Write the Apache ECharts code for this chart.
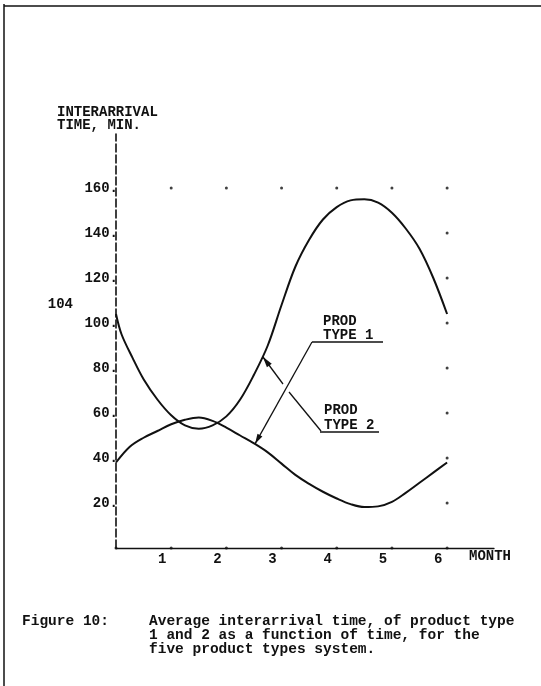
<!DOCTYPE html>
<html>
<head>
<meta charset="utf-8">
<script src="https://cdn.jsdelivr.net/npm/echarts@6/dist/echarts.min.js"></script>
<style>
html,body{margin:0;padding:0;background:#fff;}
#c{width:541px;height:686px;}
</style>
</head>
<body>
<div id="c"></div>
<script>
// ---- data ----
const monthTicks = [0, 1, 2, 3, 4, 5, 6];
const monthLabels = ['', '1', '2', '3', '4', '5', '6'];
const valueTicks = [20, 40, 60, 80, 100, 120, 140, 160];

const type1X = [0,0.25,0.5,0.75,1,1.25,1.5,1.75,2,2.25,2.5,2.75,3,3.25,3.5,3.75,4,4.25,4.5,4.75,5,5.25,5.5,5.75,6];
const type1Y = [38,45,49,52,55,57,58,56.5,53.5,50,46.5,42.5,37.5,32.5,28.5,25,22,19.5,18.2,18.5,20.5,24.5,29,33.5,38];

const type2X = [0,0.1,0.3,0.5,0.75,1,1.25,1.5,1.75,2,2.25,2.5,2.75,3,3.25,3.5,3.75,4,4.25,4.5,4.75,5,5.25,5.5,5.75,6];
const type2Y = [104,95,84.5,75,66,59,54.5,53,54.5,58.5,66,77,90,108,125,137,146,151.5,154.5,155,153.5,149,142,133,120,104];

// annotation arrow tips (data coords on the curves)
const type1Tip = [2.52, 46.3];
const type2Tip = [2.66, 85];

const FONT = '"Liberation Mono", "DejaVu Sans Mono", monospace';
const INK = '#111';

const chart = echarts.init(document.getElementById('c'));

const type1Data = type1X.map((x, i) => [x, type1Y[i]]);
const type2Data = type2X.map((x, i) => [x, type2Y[i]]);

// frame dots at tick intersections (top row, right column, bottom row)
const dots = [];
monthTicks.forEach(m => { if (m > 0) dots.push([m, valueTicks[valueTicks.length - 1]]); dots.push([m, 0]); });
valueTicks.forEach(v => { if (v < valueTicks[valueTicks.length - 1]) dots.push([monthTicks[monthTicks.length - 1], v]); });

chart.setOption({
  animation: false,
  backgroundColor: '#fff',
  grid: { left: 116, right: 47, top: 134, bottom: 138 },
  xAxis: {
    type: 'value', min: 0, max: 6.85, interval: 1,
    offset: 3,
    axisLine: { show: true, lineStyle: { color: INK, width: 1.3 } },
    axisTick: { show: false },
    splitLine: { show: false },
    axisLabel: {
      margin: 1,
      formatter: v => { const i = monthTicks.indexOf(v); return i >= 0 ? monthLabels[i] : ''; },
      fontFamily: FONT, fontSize: 14, fontWeight: 'bold', color: INK,
      align: 'center', padding: [0, 18, 0, 0]
    },
    name: 'MONTH', nameLocation: 'end', nameGap: -4,
    nameTextStyle: { fontFamily: FONT, fontSize: 14, fontWeight: 'bold', color: INK,
      align: 'center', verticalAlign: 'top', padding: [1, 0, 0, 0] }
  },
  yAxis: {
    type: 'value', min: 0, max: 184, interval: 20,
    axisLine: { show: true, lineStyle: { color: INK, width: 1.6, type: [8, 3] } },
    axisTick: { show: false },
    splitLine: { show: false },
    axisLabel: {
      margin: -2,
      formatter: v => valueTicks.indexOf(v) >= 0 ? v + '.' : '',
      fontFamily: FONT, fontSize: 14, fontWeight: 'bold', color: INK
    }
  },
  series: [
    {
      name: 'PROD TYPE 1', type: 'line', data: type1Data, smooth: 0.35,
      showSymbol: false, symbol: 'none',
      lineStyle: { color: INK, width: 2 }, z: 3
    },
    {
      name: 'PROD TYPE 2', type: 'line', data: type2Data, smooth: 0.35,
      symbol: 'none', showSymbol: false,
      lineStyle: { color: INK, width: 2 }, z: 3
    },
    {
      name: 'frame', type: 'scatter', data: dots, symbol: 'circle', symbolSize: 3,
      itemStyle: { color: INK }, silent: true, z: 2
    }
  ]
});

// annotations (labels with leader arrows)
function px(p) { return chart.convertToPixel({ gridIndex: 0 }, p); }
const t1 = px(type1Tip);
const t2 = px(type2Tip);
const startPt = px([type2X[0], type2Y[0]]);

function arrowHead(tip, from, len, half) {
  const dx = from[0] - tip[0], dy = from[1] - tip[1];
  const L = Math.hypot(dx, dy); const ux = dx / L, uy = dy / L;
  const bx = tip[0] + ux * len, by = tip[1] + uy * len;
  return {
    type: 'polygon',
    shape: { points: [tip, [bx - uy * half, by + ux * half], [bx + uy * half, by - ux * half]] },
    style: { fill: INK }
  };
}
function txt(x, y, s, size, align) {
  return { type: 'text', x: x, y: y,
    style: { text: s, fontFamily: FONT, fontSize: size || 14, fontWeight: 'bold', fill: INK,
      align: align || 'left', verticalAlign: 'middle' } };
}
function line(x1, y1, x2, y2, w) {
  return { type: 'line', shape: { x1, y1, x2, y2 }, style: { stroke: INK, lineWidth: w || 1.3 } };
}

const L1start = [312, 342];
const L2start = [321, 431];
const gapA = [283, 384], gapB = [289, 392];

chart.setOption({
  graphic: [
    // page border
    line(4, 4, 4, 686, 1.5),
    line(4, 6, 541, 6, 1.5),
    // y axis title
    txt(57, 112, 'INTERARRIVAL'),
    txt(57, 125, 'TIME, MIN.'),
    // starting value of type 2
    txt(startPt[0] - 43, startPt[1] - 10, String(type2Y[0]), 14, 'right'),
    // PROD TYPE 1
    txt(323, 321, 'PROD'),
    txt(323, 335, 'TYPE 1'),
    line(312, 342, 383, 342),
    line(L1start[0], L1start[1], t1[0], t1[1]),
    arrowHead(t1, L1start, 10, 2.8),
    // PROD TYPE 2
    txt(324, 410, 'PROD'),
    txt(324, 425, 'TYPE 2'),
    line(320, 432, 379, 432),
    line(L2start[0], L2start[1], gapB[0], gapB[1]),
    line(gapA[0], gapA[1], t2[0], t2[1]),
    arrowHead(t2, gapA, 11, 3),
    // caption
    txt(22, 621, 'Figure 10:', 14.5),
    txt(149, 621, 'Average interarrival time, of product type', 14.5),
    txt(149, 635, '1 and 2 as a function of time, for the', 14.5),
    txt(149, 649, 'five product types system.', 14.5)
  ]
});
</script>
</body>
</html>
